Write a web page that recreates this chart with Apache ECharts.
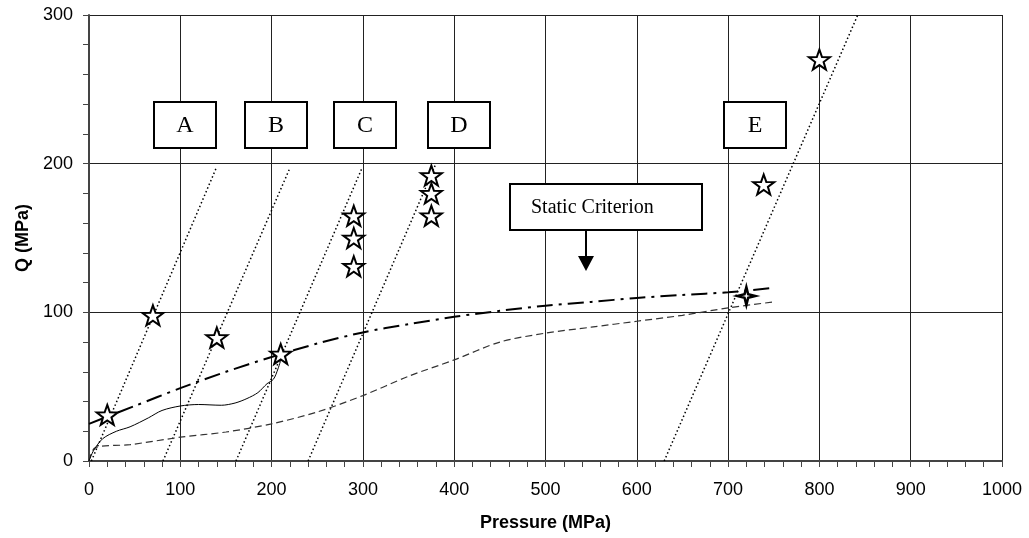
<!DOCTYPE html>
<html>
<head>
<meta charset="utf-8">
<script src="https://cdn.jsdelivr.net/npm/echarts@6/dist/echarts.min.js"></script>
<style>
  html, body { margin: 0; padding: 0; background: #fff; }
  #chart { width: 1029px; height: 538px; }
</style>
</head>
<body>
<div id="chart"></div>
<script>
// dotted reference lines A..E  [pressure, Q]
var lineA = [[2.6, 0], [140, 198]];
var lineB = [[81, 0], [220, 197]];
var lineC = [[161, 0], [299, 197]];
var lineD = [[240, 0], [380, 200]];
var lineE = [[630, 0], [842, 300]];

// static criterion (dash-dot)
var staticP = [0, 50, 100, 150, 200, 250, 300, 350, 400, 450, 500, 550, 600, 650, 700, 750];
var staticQ = [25, 37, 49, 60, 70, 79, 86.5, 92, 97, 101, 104.5, 107, 109.7, 111.7, 113.5, 116.5];

// dashed curve
var dashP = [0, 7, 45, 100, 150, 200, 250, 300, 350, 400, 450, 500, 550, 600, 650, 700, 750];
var dashQ = [0, 9, 11, 16, 19.5, 25, 33, 44, 57, 68, 80, 86, 90, 94, 98, 103, 107];

// solid curve
var solidP = [0, 5, 15, 30, 45, 65, 80, 100, 120, 145, 160, 173, 185, 195, 202, 207, 211];
var solidQ = [0, 7, 15, 20, 23, 29, 34, 37, 38, 37.5, 39, 42, 46, 52, 55, 62, 70];

// test points (stars)
var starP = [20, 70, 140, 210, 290, 290, 290, 375, 375, 375, 739, 800];
var starQ = [31, 98, 83, 72, 165, 150, 131, 192, 180, 165, 186, 270];
var crossP = [720];
var crossQ = [111];

var xTicks = [0, 100, 200, 300, 400, 500, 600, 700, 800, 900, 1000];
var yTicks = [0, 100, 200, 300];

function pairs(xs, ys) {
    return xs.map(function (x, i) { return [x, ys[i]]; });
}

var starPath = 'path://M50,0 L61.8,33.8 L97.6,34.5 L69,56.2 L79.4,90.5 L50,70 L20.6,90.5 L31,56.2 L2.4,34.5 L38.2,33.8 Z';
var crossPath = 'path://M50,0 L60,40 L100,50 L60,60 L50,100 L40,60 L0,50 L40,40 Z';

var myChart = echarts.init(document.getElementById('chart'));

function refLine(data) {
    return {
        type: 'line',
        data: data,
        symbol: 'none',
        silent: true,
        lineStyle: { color: '#000', width: 1.5, type: [1.5, 2.5] },
        z: 3
    };
}

function labelBox(cx, txt) {
    return {
        type: 'group',
        children: [
            { type: 'rect', shape: { x: cx - 31, y: 102, width: 62, height: 46 },
              style: { fill: '#fff', stroke: '#000', lineWidth: 2 }, z: 10 },
            { type: 'text', x: cx, y: 126,
              style: { text: txt, fill: '#000', font: '24px "Liberation Serif", serif',
                       align: 'center', verticalAlign: 'middle' }, z: 11 }
        ]
    };
}

function plain(v) { return String(v); }

var option = {
    animation: false,
    backgroundColor: '#fff',
    grid: { left: 89, right: 27, top: 15, bottom: 77 },
    xAxis: {
        type: 'value',
        min: xTicks[0],
        max: xTicks[xTicks.length - 1],
        interval: 100,
        name: 'Pressure (MPa)',
        nameLocation: 'middle',
        nameGap: 53,
        nameMoveOverlap: false,
        nameTextStyle: { fontFamily: 'Liberation Sans', fontWeight: 'bold', fontSize: 18, color: '#000' },
        axisLine: { show: true, onZero: false, lineStyle: { color: '#444', width: 2 } },
        axisTick: { show: true, length: 6, lineStyle: { color: '#444' } },
        minorTick: { show: true, splitNumber: 5, length: 6, lineStyle: { color: '#444' } },
        axisLabel: { fontFamily: 'Liberation Sans', fontSize: 18, color: '#000', margin: 20, formatter: plain },
        splitLine: { show: true, lineStyle: { color: '#222', width: 1 } }
    },
    yAxis: {
        type: 'value',
        min: yTicks[0],
        max: yTicks[yTicks.length - 1],
        interval: 100,
        name: 'Q (MPa)',
        nameLocation: 'middle',
        nameGap: 56,
        nameTextStyle: { fontFamily: 'Liberation Sans', fontWeight: 'bold', fontSize: 18, color: '#000' },
        axisLine: { show: true, lineStyle: { color: '#444', width: 2 } },
        axisTick: { show: true, length: 6, lineStyle: { color: '#444' } },
        minorTick: { show: true, splitNumber: 5, length: 6, lineStyle: { color: '#444' } },
        axisLabel: { fontFamily: 'Liberation Sans', fontSize: 18, color: '#000', margin: 16, formatter: plain },
        splitLine: { show: true, lineStyle: { color: '#222', width: 1 } }
    },
    series: [
        refLine(lineA), refLine(lineB), refLine(lineC), refLine(lineD), refLine(lineE),
        {
            type: 'line',
            data: pairs(staticP, staticQ),
            smooth: 0.3,
            symbol: 'none',
            lineStyle: { color: '#000', width: 2, type: [16, 6, 3, 6] },
            z: 4
        },
        {
            type: 'line',
            data: pairs(dashP, dashQ),
            smooth: 0.3,
            symbol: 'none',
            lineStyle: { color: '#333', width: 1.2, type: [7, 4] },
            z: 4
        },
        {
            type: 'line',
            data: pairs(solidP, solidQ),
            smooth: 0.3,
            symbol: 'none',
            lineStyle: { color: '#000', width: 1 },
            z: 4
        },
        {
            type: 'scatter',
            data: pairs(starP, starQ),
            symbol: starPath,
            symbolSize: 21,
            symbolKeepAspect: true,
            itemStyle: { color: '#fff', borderColor: '#000', borderWidth: 2, opacity: 1 },
            z: 6
        },
        {
            type: 'scatter',
            data: pairs(crossP, crossQ),
            symbol: crossPath,
            symbolSize: 18,
            itemStyle: { color: '#fff', borderColor: '#000', borderWidth: 2.5, opacity: 1 },
            z: 6
        }
    ],
    graphic: [
        labelBox(185, 'A'),
        labelBox(276, 'B'),
        labelBox(365, 'C'),
        labelBox(459, 'D'),
        labelBox(755, 'E'),
        { type: 'rect', shape: { x: 510, y: 184, width: 192, height: 46 },
          style: { fill: '#fff', stroke: '#000', lineWidth: 2 }, z: 10 },
        { type: 'text', x: 531, y: 208,
          style: { text: 'Static Criterion', fill: '#000', font: '20px "Liberation Serif", serif',
                   align: 'left', verticalAlign: 'middle' }, z: 11 },
        { type: 'line', shape: { x1: 586, y1: 230, x2: 586, y2: 258 },
          style: { stroke: '#000', lineWidth: 2 }, z: 10 },
        { type: 'polygon', shape: { points: [[578, 256], [594, 256], [586, 271]] },
          style: { fill: '#000' }, z: 10 }
    ]
};

myChart.setOption(option);
</script>
</body>
</html>
